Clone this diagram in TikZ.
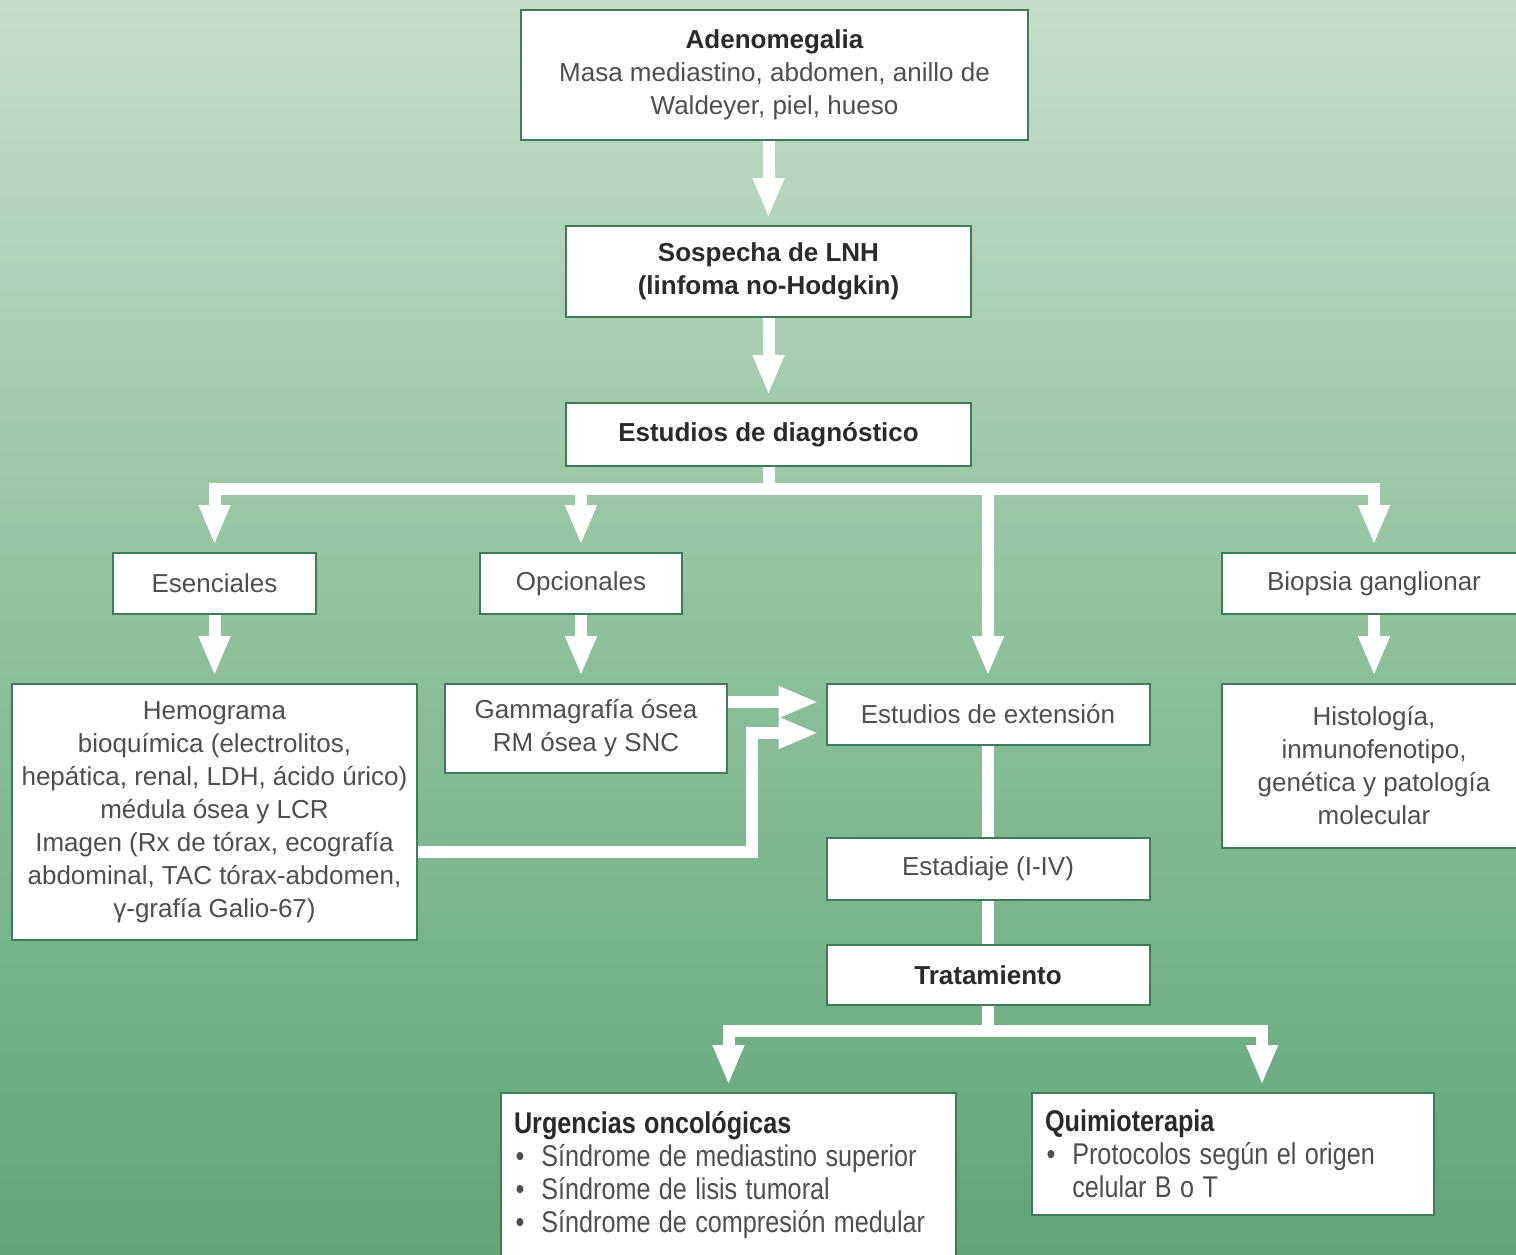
\documentclass[tikz,border=0pt]{standalone}
\usepackage{fontspec}
\usepackage{graphicx}
\setmainfont{Liberation Sans}
\usetikzlibrary{arrows.meta}
\definecolor{bgtop}{HTML}{C6DDCB}
\definecolor{bgmid}{HTML}{8EC29C}
\definecolor{bgbot}{HTML}{61A579}
\definecolor{boxc}{HTML}{3E7B57}
\definecolor{txtc}{HTML}{4E4E4E}
\definecolor{boldc}{HTML}{2A2A2A}
\newcommand\myitem{\hspace*{2pt}\textbullet\hspace{20pt}}
\newcommand\nline[1]{\scalebox{0.84}[1]{#1}}
\begin{document}
\begin{tikzpicture}[x=1pt,y=-1pt,
  box/.style={draw=boxc, line width=2pt, fill=white, inner sep=0pt, align=center, text=txtc, font=\fontsize{26}{33}\selectfont},
  ttl/.style={font=\fontsize{26}{33}\selectfont\bfseries, text=boldc},
  nbox/.style={box, anchor=north west, align=left, inner xsep=13pt, font=\fontsize{30}{33}\selectfont},
  wline/.style={draw=white, line width=12pt},
  warr/.style={wline, -{Triangle[width=29pt,length=40pt]}, shorten >=7pt},
]
\path[use as bounding box] (0,0) rectangle (1516,1254);
\clip (0,0) rectangle (1516,1254);
\shade[top color=bgtop, bottom color=bgbot, middle color=bgmid] (0,0) rectangle (1516,1254);

% nodes
\node[box, minimum width=507pt, minimum height=130pt] (aden) at (774.5,75)
  {{\bfseries\color{boldc}Adenomegalia}\\Masa mediastino, abdomen, anillo de\\Waldeyer, piel, hueso};
\node[box, ttl, minimum width=405pt, minimum height=91pt] (sosp) at (768.5,271.5)
  {Sospecha de LNH\\(linfoma no-Hodgkin)};
\node[box, ttl, minimum width=405pt, minimum height=63pt] (diag) at (768.5,434.5)
  {Estudios de diagnóstico};
\node[box, minimum width=203pt, minimum height=61pt] (esen) at (214.5,583.5) {Esenciales};
\node[box, minimum width=202pt, minimum height=61pt] (opc) at (581,583.5) {Opcionales};
\node[box, minimum width=304pt, minimum height=61pt] (biop) at (1374,583.5) {Biopsia ganglionar};
\node[box, minimum width=405pt, minimum height=256pt] (hemo) at (214.5,812)
  {Hemograma\\bioquímica (electrolitos,\\hepática, renal, LDH, ácido úrico)\\médula ósea y LCR\\Imagen (Rx de tórax, ecografía\\abdominal, TAC tórax-abdomen,\\γ-grafía Galio-67)};
\node[box, minimum width=282pt, minimum height=89pt] (gam) at (586,728.5)
  {Gammagrafía ósea\\RM ósea y SNC};
\node[box, minimum width=323pt, minimum height=61pt] (ext) at (988,714.5) {Estudios de extensión};
\node[box, minimum width=304pt, minimum height=164pt] (hist) at (1374,766)
  {Histología,\\inmunofenotipo,\\genética y patología\\molecular};
\node[box, minimum width=323pt, minimum height=62pt] (est) at (988,869) {Estadiaje (I-IV)};
\node[box, ttl, minimum width=323pt, minimum height=60pt] (trat) at (988,975) {Tratamiento};
\node[nbox, text width=429pt, inner ysep=18pt] (urg) at (500,1092)
  {\nline{\bfseries\color{boldc}Urgencias oncológicas}\\
   \nline{\myitem Síndrome de mediastino superior}\\
   \nline{\myitem Síndrome de lisis tumoral}\\
   \nline{\myitem Síndrome de compresión medular}};
\node[nbox, text width=376pt, inner ysep=17pt] (qui) at (1031,1092)
  {\nline{\bfseries\color{boldc}Quimioterapia}\\
   \nline{\myitem Protocolos según el origen}\\
   \nline{\phantom{\myitem}celular B o T}};

% connectors
\coordinate (bary) at (0,489);
\coordinate (bby) at (0,1031);
\coordinate (qx) at (1262,0);
\coordinate (u1) at (0,702);
\coordinate (u2) at (752,733);
\coordinate (u3) at (752,852);

\draw[warr] (sosp.north |- aden.south) -- (sosp.north);
\draw[warr] (sosp.south) -- (diag.north);
\draw[warr] (diag.south) -- (diag.south |- bary) -| (esen.north);
\draw[warr] (diag.south) -- (diag.south |- bary) -| (opc.north);
\draw[warr] (diag.south) -- (diag.south |- bary) -| (ext.north);
\draw[warr] (diag.south) -- (diag.south |- bary) -| (biop.north);
\draw[warr] (esen.south) -- (hemo.north);
\draw[warr] (opc.south) -- (opc.south |- gam.north);
\draw[warr] (biop.south) -- (hist.north);
\draw[warr] (gam.east |- u1) -- (ext.west |- u1);
\draw[warr] (hemo.east |- u3) -| (u2) -- (ext.west |- u2);
\draw[wline] (ext.south) -- (est.north);
\draw[wline] (est.south) -- (trat.north);
\draw[warr] (trat.south) -- (trat.south |- bby) -| (urg.north);
\draw[warr] (trat.south) -- (trat.south |- bby) -| (qui.north -| qx);
\end{tikzpicture}
\end{document}
